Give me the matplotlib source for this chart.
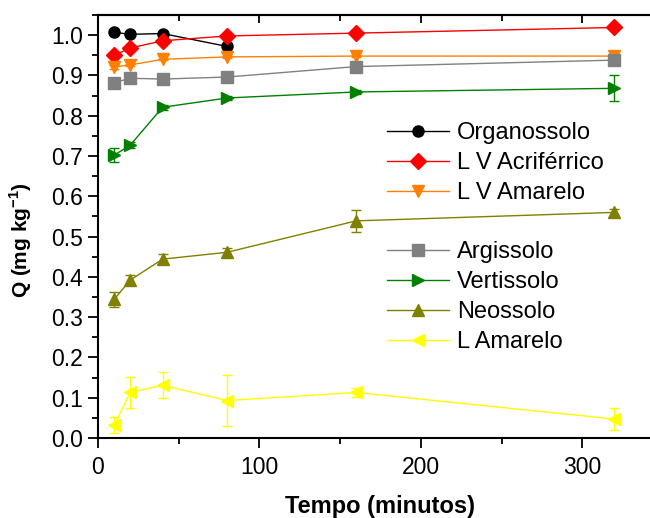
import numpy as np
import matplotlib.pyplot as plt
from matplotlib.ticker import MultipleLocator
from matplotlib.lines import Line2D

plt.rcParams['font.family'] = ['Liberation Sans', 'DejaVu Sans']
plt.rcParams['mathtext.fontset'] = 'custom'
plt.rcParams['mathtext.rm'] = 'Liberation Sans'
plt.rcParams['mathtext.bf'] = 'Liberation Sans:bold'

# tempo de contato (minutos)
tempo = [10, 20, 40, 80, 160, 320]

# Q (mg kg-1) por solo
organossolo = [1.007, 1.002, 1.004, 0.972]
organossolo_err = [0.002, 0.002, 0.002, 0.003]
lv_acriferrico = [0.950, 0.968, 0.986, 0.998, 1.005, 1.019]
lv_acriferrico_err = [0.002, 0.002, 0.002, 0.002, 0.002, 0.002]
lv_amarelo = [0.921, 0.926, 0.940, 0.946, 0.948, 0.948]
lv_amarelo_err = [0.004, 0.003, 0.002, 0.002, 0.002, 0.012]
argissolo = [0.882, 0.893, 0.891, 0.896, 0.922, 0.938]
argissolo_err = [0.002, 0.002, 0.002, 0.002, 0.002, 0.003]
vertissolo = [0.702, 0.727, 0.821, 0.844, 0.859, 0.868]
vertissolo_err = [0.017, 0.008, 0.006, 0.005, 0.004, 0.032]
neossolo = [0.344, 0.392, 0.444, 0.461, 0.539, 0.560]
neossolo_err = [0.018, 0.012, 0.012, 0.011, 0.027, 0.008]
l_amarelo = [0.032, 0.113, 0.131, 0.093, 0.113, 0.047]
l_amarelo_err = [0.020, 0.039, 0.032, 0.063, 0.012, 0.027]

fig = plt.figure(figsize=(6.5, 5.18), dpi=100)
ax = fig.add_axes([98 / 650, 1 - 438 / 518, 552 / 650, 423 / 518])

series = [
    ('Organossolo', tempo[:4], organossolo, organossolo_err, 'black', 'o'),
    ('L V Acriférrico', tempo, lv_acriferrico, lv_acriferrico_err, 'red', 'D'),
    ('L V Amarelo', tempo, lv_amarelo, lv_amarelo_err, '#FF8000', 'v'),
    ('Argissolo', tempo, argissolo, argissolo_err, '#808080', 's'),
    ('Vertissolo', tempo, vertissolo, vertissolo_err, '#008000', '>'),
    ('Neossolo', tempo, neossolo, neossolo_err, '#808000', '^'),
    ('L Amarelo', tempo, l_amarelo, l_amarelo_err, '#FFFF00', '<'),
]

handles = []
for nome, x, y, err, cor, mk in series:
    ax.errorbar(x, y, yerr=err, color=cor, marker=mk, markersize=8,
                linewidth=1, elinewidth=1, capsize=3.5, capthick=1)
    handles.append(Line2D([], [], color=cor, marker=mk, markersize=8,
                          linewidth=1, label=nome))

ax.set_xlim(0, 342)
ax.set_ylim(0, 1.05)
ax.xaxis.set_major_locator(MultipleLocator(100))
ax.xaxis.set_minor_locator(MultipleLocator(50))
ax.yaxis.set_major_locator(MultipleLocator(0.1))
ax.yaxis.set_minor_locator(MultipleLocator(0.05))
ax.yaxis.set_major_formatter(plt.FormatStrFormatter('%.1f'))
ax.tick_params(which='major', direction='out', length=7, width=1.3,
               labelsize=16.5, pad=4)
ax.tick_params(which='minor', direction='out', length=4, width=1.3)
ax.tick_params(axis='x', which='major', pad=6)
for s in ['left', 'bottom', 'top']:
    ax.spines[s].set_linewidth(1.5)
ax.spines['right'].set_visible(False)

# ticks para dentro no eixo superior
top = ax.secondary_xaxis('top')
top.xaxis.set_major_locator(MultipleLocator(100))
top.xaxis.set_minor_locator(MultipleLocator(50))
top.tick_params(which='major', direction='in', length=6, width=1.3, labeltop=False)
top.tick_params(which='minor', direction='in', length=4, width=1.3)
top.spines['top'].set_linewidth(1.5)

fig.text(380 / 650, 1 - 506 / 518, 'Tempo (minutos)', fontsize=17,
         fontweight='bold', ha='center', va='center')
ax.set_ylabel('Q (mg kg$^{\\mathbf{-1}}$)', fontsize=15, fontweight='bold')
ax.yaxis.set_label_coords((34 - 98) / 552, (438 - 240) / 423)

leg1 = ax.legend(handles=handles[:3], loc='upper left', frameon=False,
                 fontsize=17, bbox_to_anchor=(280 / 552, 1 - 98 / 423),
                 handlelength=2.6, labelspacing=0.33, handletextpad=0.35,
                 borderaxespad=0)
ax.add_artist(leg1)
ax.legend(handles=handles[3:], loc='upper left', frameon=False,
          fontsize=17, bbox_to_anchor=(280 / 552, 1 - 217 / 423),
          handlelength=2.6, labelspacing=0.33, handletextpad=0.35,
          borderaxespad=0)

fig.savefig('out.png', dpi=100)
